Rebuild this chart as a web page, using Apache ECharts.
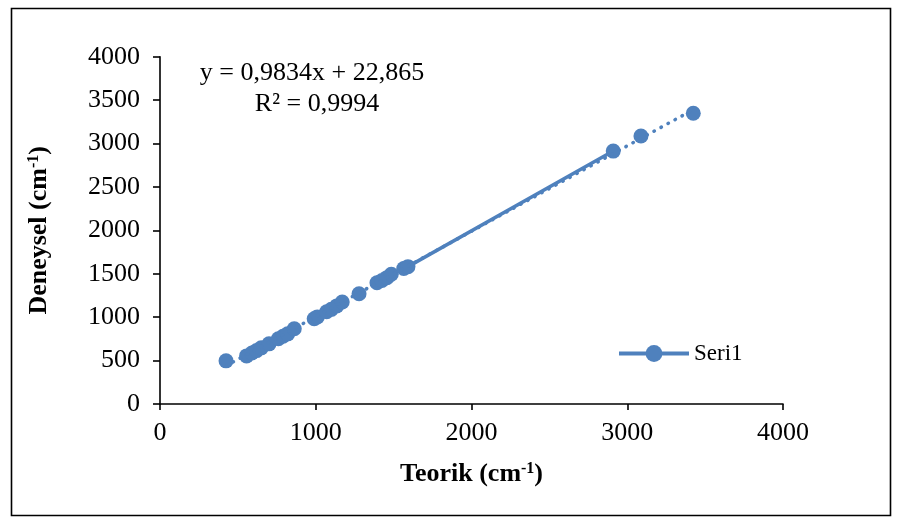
<!DOCTYPE html>
<html><head><meta charset="utf-8">
<script src="https://cdn.jsdelivr.net/npm/echarts@6/dist/echarts.min.js"></script>
<style>html,body{margin:0;padding:0;background:#fff}#c{width:897px;height:517px}</style>
</head><body><div id="c"></div>
<script>
// Data (null = no connecting line between groups)
const seriesName = 'Seri1';
const teorik   = [424, null, 556, 590, 620, 650, 700, 760, 790, 820, 862, null, 990, 1010, 1070, 1100, 1135, 1170, null, 1278, null, 1393, 1425, 1457, 1485, 1565, 1592, 2910, null, 3088, null, 3424];
const deneysel = [497, null, 554, 588, 615, 647, 693, 751, 780, 808, 866, null, 982, 1003, 1063, 1090, 1130, 1175, null, 1270, null, 1397, 1423, 1455, 1495, 1560, 1582, 2913, null, 3087, null, 3349];
const axisMin = 0, axisMax = 4000, axisStep = 1000, yStep = 500;
const trendSlope = 0.9834, trendIntercept = 22.865;
const equationLine = 'y = 0,9834x + 22,865';
const r2Line = 'R² = 0,9994';
const xTitle = ['Teorik (cm', '-1', ')'];
const yTitle = ['Deneysel (cm', '-1', ')'];

const FONT = "'Liberation Serif','Times New Roman',serif";
const BLUE = '#4F81BD';

const pts = teorik.map((x, i) => (x === null ? '-' : [x, deneysel[i]]));
const xs = teorik.filter(v => v !== null);
const xMinD = Math.min(...xs), xMaxD = Math.max(...xs);
const trend = [[xMinD, trendSlope * xMinD + trendIntercept], [xMaxD, trendSlope * xMaxD + trendIntercept]];

const richTitle = {
  a: {fontFamily: FONT, fontSize: 26, fontWeight: 'bold', color: '#000'},
  s: {fontFamily: FONT, fontSize: 16, fontWeight: 'bold', color: '#000', verticalAlign: 'top', lineHeight: 26}
};
const mkTitle = t => '{a|' + t[0] + '}{s|' + t[1] + '}{a|' + t[2] + '}';
const plain = v => String(v);

const chart = echarts.init(document.getElementById('c'), null, {renderer: 'canvas'});
chart.setOption({
  animation: false,
  backgroundColor: '#fff',
  grid: {left: 160, right: 114, top: 56.7, bottom: 113},
  legend: {
    data: [seriesName], left: 612, top: 337, itemWidth: 70, itemHeight: 21, itemGap: 10,
    lineStyle: {width: 4},
    textStyle: {fontFamily: FONT, fontSize: 23, color: '#000'}
  },
  xAxis: {
    type: 'value', min: axisMin, max: axisMax, interval: axisStep,
    splitLine: {show: false},
    axisLine: {lineStyle: {color: '#000', width: 1.6}},
    axisTick: {show: true, length: 6, lineStyle: {color: '#000', width: 1.6}},
    axisLabel: {fontFamily: FONT, fontSize: 26, color: '#000', margin: 16, formatter: plain},
    name: mkTitle(xTitle), nameLocation: 'middle', nameGap: 57,
    nameTextStyle: {rich: richTitle}
  },
  yAxis: {
    type: 'value', min: axisMin, max: axisMax, interval: yStep,
    splitLine: {show: false},
    axisLine: {show: true, lineStyle: {color: '#000', width: 1.6}},
    axisTick: {show: true, length: 7, lineStyle: {color: '#000', width: 1.6}},
    axisLabel: {fontFamily: FONT, fontSize: 26, color: '#000', margin: 20, formatter: plain},
    name: mkTitle(yTitle), nameLocation: 'middle', nameGap: 108,
    nameTextStyle: {rich: richTitle}
  },
  series: [
    {
      name: seriesName, type: 'line', data: pts, connectNulls: false,
      symbol: 'circle', symbolSize: 15, color: BLUE,
      lineStyle: {color: BLUE, width: 3.5}, itemStyle: {color: BLUE}, z: 3
    },
    {
      name: 'trend', type: 'line', data: trend, symbol: 'none', silent: true,
      lineStyle: {color: BLUE, width: 3.5, type: [0.5, 7.5], cap: 'round'}, z: 4
    }
  ],
  graphic: [
    {type: 'rect', left: 9, top: 6, shape: {width: 879, height: 507},
     style: {fill: 'none', stroke: '#000', lineWidth: 1.6}, silent: true},
    {type: 'text', x: 312, y: 73, style: {text: equationLine, font: '26px ' + FONT, fill: '#000', align: 'center', verticalAlign: 'middle'}},
    {type: 'text', x: 317, y: 104, style: {text: r2Line, font: '26px ' + FONT, fill: '#000', align: 'center', verticalAlign: 'middle'}}
  ]
});
</script></body></html>
